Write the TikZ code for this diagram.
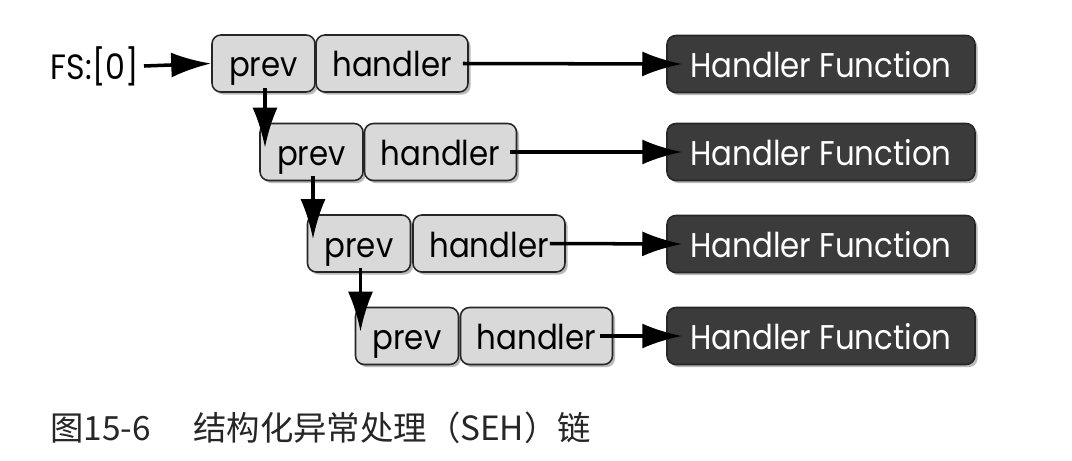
\documentclass[tikz,border=0pt]{standalone}
\usepackage{fontspec}
\setmainfont{Poppins}[FakeStretch=0.9]
\newfontfamily\cjkfont{Noto Sans CJK SC}
\usetikzlibrary{arrows.meta, shadows}

\tikzset{
    cell/.style={draw=black!85, line width=0.9pt, fill=black!15, rounded corners=5pt,
        minimum height=1.14cm, inner sep=0pt, text height=0.54cm, text depth=0cm,
        font=\fontsize{19.5}{19.5}\selectfont,
        drop shadow={shadow xshift=1.5pt, shadow yshift=-1.5pt, fill=black!45, opacity=0.6}},
    prevcell/.style={cell, minimum width=2.06cm},
    hdlcell/.style={cell, minimum width=3.04cm},
    funcbox/.style={cell, fill=black!77, text=white, minimum width=6.16cm},
    ptr/.style={line width=2pt, -{Latex[length=0.8cm, width=0.5cm]}}
}

\begin{document}
\begin{tikzpicture}[x=0.02cm, y=-0.02cm]

    \useasboundingbox[fill=white] (0,0) rectangle (1072,460);

    \node[anchor=east, font=\fontsize{20}{20}\selectfont, inner sep=0pt] (fs) at (139,66) {FS:[0]};

    % the four records
    \node[prevcell] (p1) at (263.5,63.5) {prev};
    \node[hdlcell]  (h1) at (392,63.5) {handler};
    \node[prevcell] (p2) at (311.5,152) {prev};
    \node[hdlcell]  (h2) at (440.5,152) {handler};
    \node[prevcell] (p3) at (359,243.5) {prev};
    \node[hdlcell]  (h3) at (489,243.5) {handler};
    \node[prevcell] (p4) at (407,336) {prev};
    \node[hdlcell]  (h4) at (536.5,336) {handler};

    % handler functions
    \node[funcbox] (f1) at (821,64) {Handler Function};
    \node[funcbox] (f2) at (821,152) {Handler Function};
    \node[funcbox] (f3) at (821,244) {Handler Function};
    \node[funcbox] (f4) at (821,336) {Handler Function};

    \draw[ptr] ([xshift=0.1cm]fs.east) -- (p1.west);

    \draw[ptr] ([xshift=0.03cm, yshift=0.1cm]p1.south) -- ([xshift=0.03cm, yshift=-0.5cm]p1.south |- p2.north);
    \draw[ptr] ([xshift=0.03cm, yshift=0.1cm]p2.south) -- ([xshift=0.03cm, yshift=-0.5cm]p2.south |- p3.north);
    \draw[ptr] ([xshift=0.03cm, yshift=0.1cm]p3.south) -- ([xshift=0.03cm, yshift=-0.5cm]p3.south |- p4.north);

    \draw[ptr] ([xshift=-0.12cm]h1.east) -- ([xshift=0.32cm]f1.west);
    \draw[ptr] ([xshift=-0.14cm]h2.east) -- ([xshift=0.32cm]f2.west);
    \draw[ptr] ([xshift=-0.32cm]h3.east) -- ([xshift=0.32cm]f3.west);
    \draw[ptr] ([xshift=-0.26cm]h4.east) -- ([xshift=0.32cm]f4.west);

    \node[anchor=west, inner sep=0pt, text=black!85, font=\cjkfont\fontsize{19}{19}\selectfont] (cap) at (50,428) {图15-6\hspace{0.85cm}结构化异常处理（SEH）链};

\end{tikzpicture}
\end{document}
